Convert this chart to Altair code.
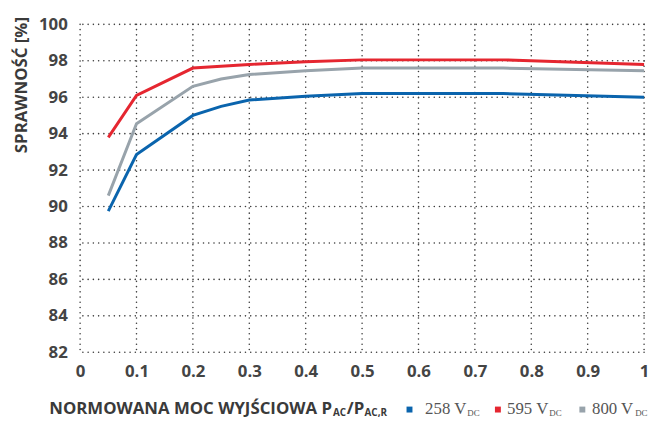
import altair as alt
import pandas as pd

# ---- data ----
load = [0.05, 0.1, 0.2, 0.25, 0.3, 0.4, 0.5, 0.75, 1.0]
eff_258 = [89.75, 92.85, 95.0, 95.5, 95.85, 96.05, 96.2, 96.2, 96.0]
eff_595 = [93.8, 96.1, 97.6, 97.7, 97.8, 97.95, 98.05, 98.05, 97.8]
eff_800 = [90.6, 94.55, 96.6, 97.0, 97.25, 97.45, 97.6, 97.6, 97.45]
series = ["258", "595", "800"]
colors = ["#0a64ad", "#e52630", "#98a3ab"]
x_ticks = [0, 0.1, 0.2, 0.3, 0.4, 0.5, 0.6, 0.7, 0.8, 0.9, 1.0]
y_ticks = list(range(82, 101, 2))

rows = []
for name, vals in zip(series, [eff_258, eff_595, eff_800]):
    for xv, yv in zip(load, vals):
        rows.append({"series": name, "load": xv, "eff": yv})
df = pd.DataFrame(rows)

BOLD = "Open Sans"
SERIF = "Liberation Serif, DejaVu Serif"

xs = alt.Scale(domain=[0, 1], nice=False)
ys = alt.Scale(domain=[82, 100], nice=False, zero=False)

x_axis = alt.Axis(values=x_ticks, format="~g", title=None, labelFlush=False,
                  labelOverlap=False, ticks=False, domain=False, labelPadding=12,
                  labelFont=BOLD, labelFontWeight="bold", labelFontSize=17,
                  labelColor="#444444", grid=False)
y_axis = alt.Axis(values=y_ticks, title="SPRAWNOŚĆ [%]", ticks=False, domain=False,
                  labelOverlap=False, labelFlush=False,
                  labelPadding=13, labelFont=BOLD, labelFontWeight="bold",
                  labelFontSize=17, labelColor="#444444", grid=False,
                  titleFont=BOLD, titleFontWeight="bold", titleFontSize=17,
                  titleColor="#3a3a3a", titleAngle=270, titleAlign="right",
                  titleBaseline="alphabetic", titleX=-54, titleY=-8)

grid_dash = [0.01, 5.3]
grid_color = "#3c3c3c"

vgrid = alt.Chart(pd.DataFrame({"load": x_ticks})).mark_rule(
    strokeDash=grid_dash, color=grid_color, strokeWidth=1.6, strokeCap="round"
).encode(x=alt.X("load:Q", scale=xs, axis=x_axis))

hgrid = alt.Chart(pd.DataFrame({"eff": y_ticks})).mark_rule(
    strokeDash=grid_dash, color=grid_color, strokeWidth=1.6, strokeCap="round"
).encode(y=alt.Y("eff:Q", scale=ys, axis=y_axis))

lines = alt.Chart(df).mark_line(strokeWidth=3).encode(
    x=alt.X("load:Q", scale=xs, axis=x_axis),
    y=alt.Y("eff:Q", scale=ys, axis=y_axis),
    color=alt.Color("series:N", scale=alt.Scale(domain=series, range=colors), legend=None),
    order=alt.Order("load:Q"),
)


def txt(s, x, y, size, font, weight, color, align="left"):
    return alt.Chart(pd.DataFrame({"t": [s]})).mark_text(
        align=align, baseline="alphabetic", font=font, fontSize=size,
        fontWeight=weight, color=color
    ).encode(x=alt.value(x), y=alt.value(y), text="t:N")


def sq(x, y, color):
    return alt.Chart(pd.DataFrame({"t": [1]})).mark_square(
        size=36, color=color, opacity=1
    ).encode(x=alt.value(x), y=alt.value(y))


tc = "#3a3a3a"
lc = "#555555"
layers = [
    vgrid, hgrid,
    lines,
    txt("NORMOWANA MOC WYJŚCIOWA P", 255, 394, 17, BOLD, "bold", tc, align="right"),
    txt("AC", 256, 397, 10, BOLD, "bold", tc),
    txt("/P", 270, 394, 17, BOLD, "bold", tc),
    txt("AC,R", 288, 397, 10, BOLD, "bold", tc),
    sq(333.5, 390, colors[0]),
    txt("258 V", 391, 394, 17, SERIF, "normal", lc, align="right"),
    txt("DC", 392, 397, 9, SERIF, "normal", lc),
    sq(423, 390, colors[1]),
    txt("595 V", 474, 394, 17, SERIF, "normal", lc, align="right"),
    txt("DC", 475, 397, 9, SERIF, "normal", lc),
    sq(508.5, 390, colors[2]),
    txt("800 V", 560, 394, 17, SERIF, "normal", lc, align="right"),
    txt("DC", 562, 397, 9, SERIF, "normal", lc),
]

chart = alt.layer(*layers).properties(
    width=571, height=332,
    autosize=alt.AutoSizeParams(type="none"),
    padding={"left": 73, "top": 14, "right": 6, "bottom": 65},
    background="white",
).configure_view(stroke=None)

chart.save("out.html", embed_options={"renderer": "svg", "actions": False})
